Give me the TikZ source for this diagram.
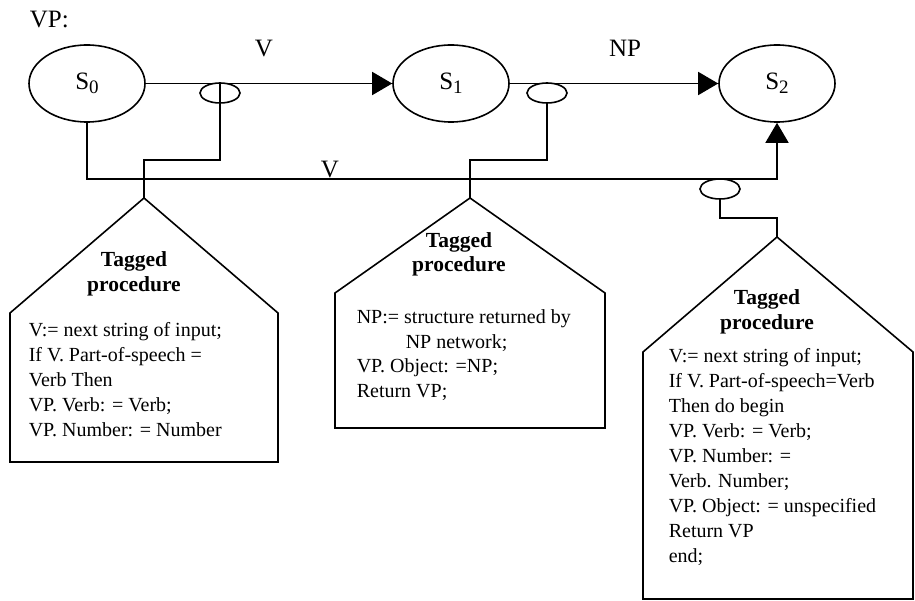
\documentclass[tikz,border=0pt]{standalone}
\usepackage{fontspec}
\setmainfont{Liberation Serif}
\usetikzlibrary{shapes.geometric,arrows.meta}
\newcommand{\subidx}[1]{\raisebox{-4pt}{\fontsize{19}{20}\selectfont #1}}
\begin{document}
\begin{tikzpicture}[x=1pt,y=-1pt,line width=1.6pt,
  state/.style={draw,ellipse,minimum width=116pt,minimum height=77pt,inner sep=0pt,font=\fontsize{25}{30}\selectfont},
  tag/.style={draw,ellipse,minimum width=40pt,minimum height=20pt,inner sep=0pt},
  lbl/.style={font=\fontsize{25}{30}\selectfont,inner sep=0pt,anchor=base},
  title/.style={font=\fontsize{21.5}{25}\selectfont\bfseries,align=center,inner sep=0pt,anchor=base},
  body/.style={font=\fontsize{20}{25}\selectfont,align=left,inner sep=0pt,anchor=base west},
  arr/.style={-{Triangle[length=20pt,width=23pt]}},
  house/.style={line join=miter}]
\useasboundingbox (0,0) rectangle (915,601);
% states
\node[state] (s0) at (87,83.5) {S\subidx{0}};
\node[state] (s1) at (451,83.5) {S\subidx{1}};
\node[state] (s2) at (777,83.5) {S\subidx{2}};
\node[lbl,anchor=base west] (vp) at (29,28) {VP:};
\node[lbl] (lv) at (264,57) {V};
\node[lbl] (lnp) at (625,57) {NP};
\node[lbl] (lv2) at (330,178) {V};
% arcs
\draw[arr] (s0.east) -- (s1.west);
\draw[arr] (s1.east) -- (s2.west);
\draw[arr] (s0.south) -- ++(0,56.5) -| (s2.south);
% tags
\node[tag] (t0) at (220,93) {};
\node[tag] (t1) at (547,93) {};
\node[tag] (t2) at (720,189) {};
% houses
\coordinate (a0) at (144,198);
\coordinate (a1) at (470,198);
\coordinate (a2) at (777,237);
\draw[house] (a0) -- (278,313) -- (278,462) -- (10,462) -- (10,313) -- cycle;
\draw[house] (a1) -- (605,293) -- (605,428) -- (335,428) -- (335,293) -- cycle;
\draw[house] (a2) -- (913,352) -- (913,599) -- (643,599) -- (643,352) -- cycle;
% tag connectors
\coordinate (k0) at (144,160);
\coordinate (k1) at (470,160);
\coordinate (k2) at (777,218);
\draw (t0.north) -- (t0.north |- k0) -- (k0) -- (a0);
\draw (t1.south) -- (t1.south |- k1) -- (k1) -- (a1);
\draw (t2.south) -- (t2.south |- k2) -- (k2) -- (a2);
% texts (base anchor = baseline of last line)
\node[title] (h0) at (134,292) {Tagged\\procedure};
\node[title,font=\fontsize{21.5}{24}\selectfont\bfseries] (h1) at (459,272) {Tagged\\procedure};
\node[title] (h2) at (767,330) {Tagged\\procedure};
\node[body] (b0) at (28,436) {V:= next string of input;\\If V. Part-of-speech =\\Verb Then\\VP. Verb: = Verb;\\VP. Number: = Number};
\node[body,font=\fontsize{20}{24.5}\selectfont] (b1) at (356,397) {NP:= structure returned by\\\hspace*{49pt}NP network;\\VP. Object: =NP;\\Return VP;};
\node[body] (b2) at (668,562) {V:= next string of input;\\If V. Part-of-speech=Verb\\Then do begin\\VP. Verb: = Verb;\\VP. Number: =\\Verb. Number;\\VP. Object: = unspecified\\Return VP\\end;};
\end{tikzpicture}
\end{document}
